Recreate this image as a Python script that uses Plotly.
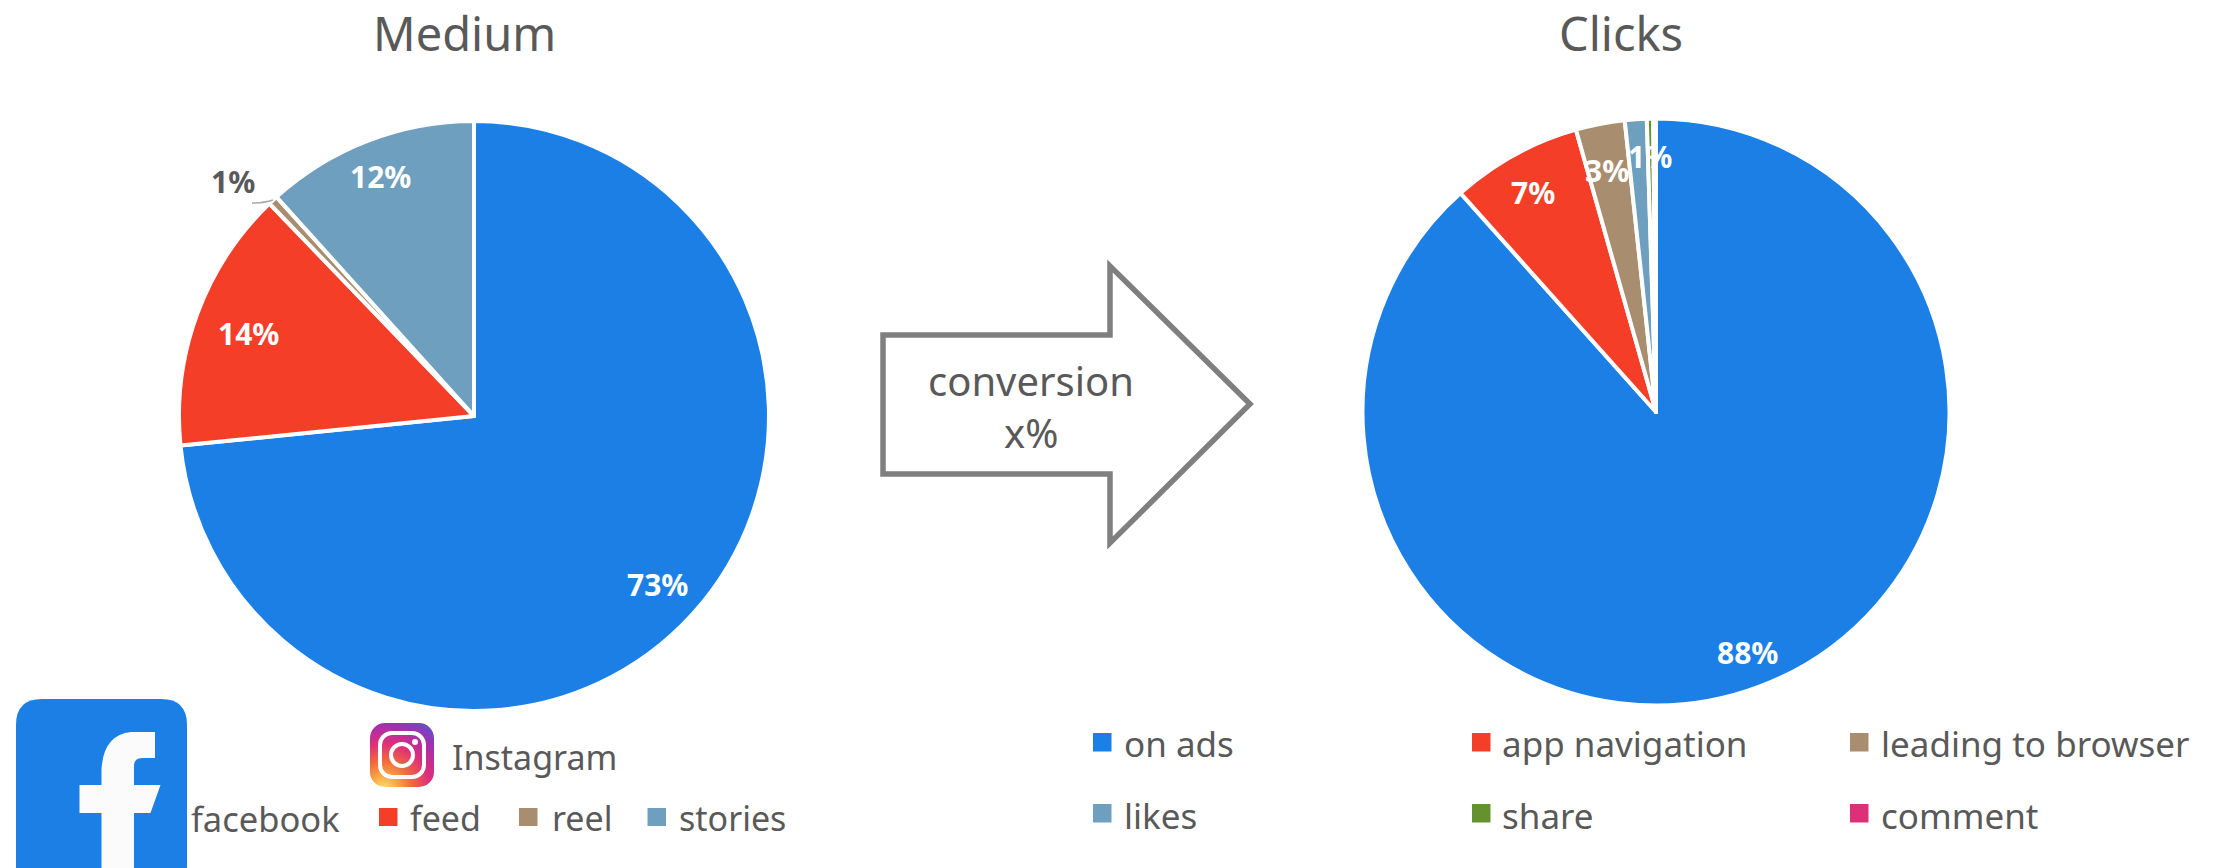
import base64
import plotly.graph_objects as go

W, H = 2218, 868

# Series
medium_labels = ["facebook", "feed", "reel", "stories"]
medium_values = [73.4, 14.4, 0.52, 11.68]
medium_colors = ["#1C7FE6", "#F43E28", "#A98D6F", "#6E9FBF"]

clicks_labels = ["on ads", "app navigation", "leading to browser", "likes", "share", "comment"]
clicks_values = [88.4, 7.2, 2.7, 1.2, 0.35, 0.15]
clicks_colors = ["#1C7FE6", "#F43E28", "#A98D6F", "#6E9FBF", "#64922F", "#DE3078"]

FONT = "Noto Sans"
GREY = "#595959"


def fx(x):
    return x / W


def fy(y):
    return 1 - y / H


def pie(labels, values, colors, cx, cy, r):
    return go.Pie(
        labels=labels, values=values, sort=False, direction="clockwise", rotation=0,
        marker=dict(colors=colors, line=dict(color="white", width=4)),
        textinfo="none", hoverinfo="label+percent", showlegend=False,
        domain=dict(x=[fx(cx - r), fx(cx + r)], y=[fy(cy + r), fy(cy - r)]),
    )


fig = go.Figure([
    pie(medium_labels, medium_values, medium_colors, 474, 416, 295),
    pie(clicks_labels, clicks_values, clicks_colors, 1656, 412, 293.5),
])

annotations = []
shapes = []


def text(s, x, y, size, color=GREY, anchor="left", bold=False):
    annotations.append(dict(
        text=f"<b>{s}</b>" if bold else s, x=fx(x), y=fy(y), xref="paper", yref="paper",
        xanchor=anchor, yanchor="middle", showarrow=False,
        font=dict(family=FONT, size=size, color=color),
    ))


def path(d_points, **style):
    shapes.append(dict(type="path", xref="paper", yref="paper", path=d_points, **style))


def P(x, y):
    return f"{fx(x):.5f},{fy(y):.5f}"


def square(x0, y0, x1, y1, color):
    shapes.append(dict(type="rect", xref="paper", yref="paper", x0=fx(x0), x1=fx(x1),
                       y0=fy(y1), y1=fy(y0), fillcolor=color, line=dict(width=0)))


# Titles
text("Medium", 464, 33, 47, anchor="center")
text("Clicks", 1621, 33, 47, anchor="center")

# Percentage labels, formatted from the series values
medium_label_xy = [(657, 584), (248, 334), (233, 181), (380, 177)]
medium_label_color = ["white", "white", GREY, "white"]
for v, (x, y), c in zip(medium_values, medium_label_xy, medium_label_color):
    text(f"{v:.0f}%", x, y, 30, color=c, anchor="center", bold=True)

clicks_label_xy = [(1747, 652), (1533, 192), (1607, 171), (1650, 156)]
for v, (x, y) in zip(clicks_values, clicks_label_xy):
    text(f"{v:.0f}%", x, y, 30, color="white", anchor="center", bold=True)

# Leader line for the thin "reel" slice
path(f"M{P(252, 203)} Q{P(264, 203)} {P(273, 200)}", line=dict(color="#A6A6A6", width=1.5))

# Conversion arrow
arrow = [(883, 335), (1110, 335), (1110, 266), (1250, 404), (1110, 543), (1110, 474), (883, 474)]
path("M" + " L".join(P(x, y) for x, y in arrow) + " Z",
     line=dict(color="#7F7F7F", width=5.5), fillcolor="white")
text("conversion", 1030.5, 381, 40, anchor="center")
text("x%", 1030.5, 432, 40, anchor="center")

# Left legend
text("Instagram", 450, 757, 34)
text("facebook", 189, 818, 34.5)
for label, color, sx, tx in zip(medium_labels[1:], medium_colors[1:], [379, 519, 647.5], [408, 550, 677]):
    square(sx, 808, sx + 18.5, 826, color)
    text(label, tx, 818, 34)

# Right legend
col_sq = [1093, 1472, 1850]
col_tx = [1122, 1500, 1879]
row_sq = [733, 804]
row_tx = [743, 815]
for i, (label, color) in enumerate(zip(clicks_labels, clicks_colors)):
    c, r = i % 3, i // 3
    square(col_sq[c], row_sq[r], col_sq[c] + 18.5, row_sq[r] + 18.5, color)
    text(label, col_tx[c], row_tx[r], 35)

# Facebook badge, running off the bottom edge
fb_l, fb_r, fb_t, fb_b, fb_rad = 16, 187, 699, 892, 26
path(f"M{P(fb_l + fb_rad, fb_t)} L{P(fb_r - fb_rad, fb_t)} Q{P(fb_r, fb_t)} {P(fb_r, fb_t + fb_rad)} "
     f"L{P(fb_r, fb_b - fb_rad)} Q{P(fb_r, fb_b)} {P(fb_r - fb_rad, fb_b)} "
     f"L{P(fb_l + fb_rad, fb_b)} Q{P(fb_l, fb_b)} {P(fb_l, fb_b - fb_rad)} "
     f"L{P(fb_l, fb_t + fb_rad)} Q{P(fb_l, fb_t)} {P(fb_l + fb_rad, fb_t)} Z",
     fillcolor="#1C7FE6", line=dict(width=0))
path(f"M{P(155, 732)} L{P(155, 758)} L{P(142, 758)} Q{P(134, 758)} {P(134, 766)} L{P(134, 785)} "
     f"L{P(160.5, 785)} L{P(150.5, 813)} L{P(134, 813)} L{P(134, 869)} L{P(101.5, 869)} "
     f"L{P(101.5, 813)} L{P(79.5, 813)} L{P(79.5, 785)} L{P(101.5, 785)} L{P(101.5, 770)} "
     f"Q{P(103, 735)} {P(131, 732)} Z",
     fillcolor="#FBFBFB", line=dict(width=0))

# Instagram badge
instagram_svg = """<svg xmlns="http://www.w3.org/2000/svg" viewBox="0 0 64 64" preserveAspectRatio="none">
<defs>
<radialGradient id="g" gradientUnits="userSpaceOnUse" cx="14" cy="66" r="82">
<stop offset="0" stop-color="#FDE07A"/><stop offset="0.14" stop-color="#FBB04A"/>
<stop offset="0.34" stop-color="#F26A3A"/><stop offset="0.56" stop-color="#DE2E7A"/>
<stop offset="0.78" stop-color="#A22FB0"/><stop offset="1" stop-color="#4F5BD0"/>
</radialGradient>
</defs>
<rect width="64" height="64" rx="15" ry="15" fill="url(#g)"/>
<rect x="10" y="10" width="44" height="44" rx="12" ry="12" fill="none" stroke="#FFF" stroke-width="4"/>
<circle cx="32" cy="32" r="11" fill="none" stroke="#FFF" stroke-width="4"/>
<circle cx="45" cy="19" r="3" fill="#FFF"/>
</svg>"""
instagram_uri = "data:image/svg+xml;base64," + base64.b64encode(instagram_svg.encode()).decode()

fig.update_layout(
    width=W, height=H, margin=dict(l=0, r=0, t=0, b=0),
    paper_bgcolor="white", plot_bgcolor="white",
    annotations=annotations, shapes=shapes,
    images=[dict(source=instagram_uri, xref="paper", yref="paper", x=fx(370), y=fy(723),
                 sizex=64 / W, sizey=64 / H, xanchor="left", yanchor="top",
                 sizing="stretch", layer="above")],
)

fig.write_html("out.html", config=dict(displayModeBar=False))
